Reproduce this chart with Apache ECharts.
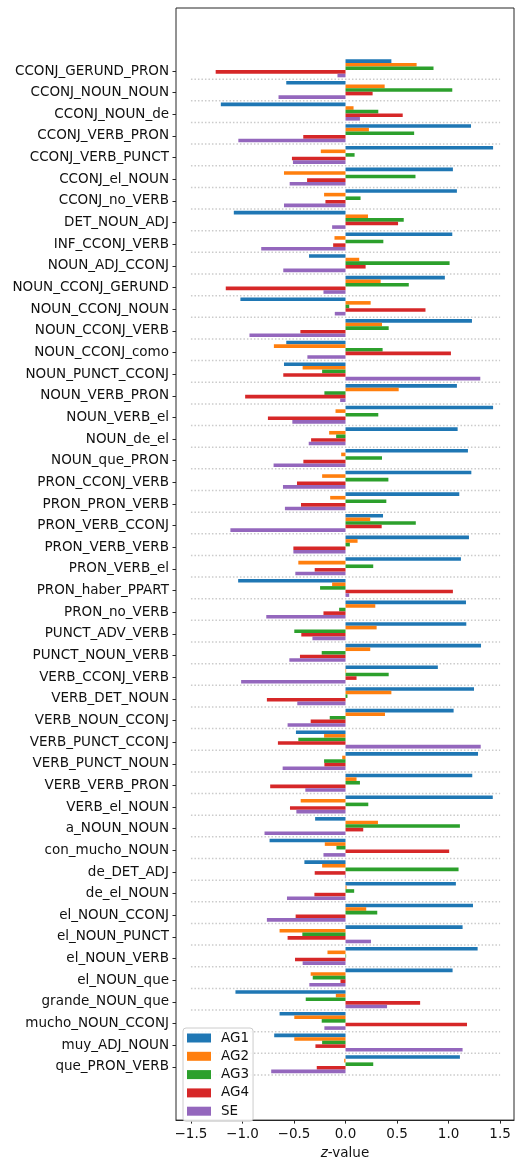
<!DOCTYPE html>
<html>
<head>
<meta charset="utf-8">
<script src="https://cdn.jsdelivr.net/npm/echarts@6/dist/echarts.min.js"></script>
<style>
  html, body { margin: 0; padding: 0; background: #fff; }
  #chart { width: 517px; height: 1165px; }
</style>
</head>
<body>
<div id="chart"></div>
<script>
// Trigram categories, top to bottom
const categories = [
  'CCONJ_GERUND_PRON', 'CCONJ_NOUN_NOUN', 'CCONJ_NOUN_de', 'CCONJ_VERB_PRON', 'CCONJ_VERB_PUNCT',
  'CCONJ_el_NOUN', 'CCONJ_no_VERB', 'DET_NOUN_ADJ', 'INF_CCONJ_VERB', 'NOUN_ADJ_CCONJ',
  'NOUN_CCONJ_GERUND', 'NOUN_CCONJ_NOUN', 'NOUN_CCONJ_VERB', 'NOUN_CCONJ_como', 'NOUN_PUNCT_CCONJ',
  'NOUN_VERB_PRON', 'NOUN_VERB_el', 'NOUN_de_el', 'NOUN_que_PRON', 'PRON_CCONJ_VERB',
  'PRON_PRON_VERB', 'PRON_VERB_CCONJ', 'PRON_VERB_VERB', 'PRON_VERB_el', 'PRON_haber_PPART',
  'PRON_no_VERB', 'PUNCT_ADV_VERB', 'PUNCT_NOUN_VERB', 'VERB_CCONJ_VERB', 'VERB_DET_NOUN',
  'VERB_NOUN_CCONJ', 'VERB_PUNCT_CCONJ', 'VERB_PUNCT_NOUN', 'VERB_VERB_PRON', 'VERB_el_NOUN',
  'a_NOUN_NOUN', 'con_mucho_NOUN', 'de_DET_ADJ', 'de_el_NOUN', 'el_NOUN_CCONJ',
  'el_NOUN_PUNCT', 'el_NOUN_VERB', 'el_NOUN_que', 'grande_NOUN_que', 'mucho_NOUN_CCONJ',
  'muy_ADJ_NOUN', 'que_PRON_VERB'
];

// z-values per group
const AG1 = [0.445, -0.575, -1.21, 1.218, 1.432, 1.042, 1.081, -1.084, 1.036, -0.354,
  0.964, -1.02, 1.227, -0.575, -0.597, 1.081, 1.432, 1.088, 1.188, 1.221,
  1.104, 0.364, 1.198, 1.12, -1.042, 1.169, 1.172, 1.315, 0.896, 1.247,
  1.049, -0.481, 1.286, 1.23, 1.429, -0.295, -0.737, -0.399, 1.071, 1.237,
  1.136, 1.282, 1.039, -1.068, -0.64, -0.692, 1.11];
const AG2 = [0.69, 0.38, 0.078, 0.227, -0.24, -0.597, -0.208, 0.218, -0.107, 0.133,
  0.341, 0.244, 0.354, -0.695, -0.416, 0.516, -0.097, -0.159, -0.042, -0.227,
  -0.149, 0.24, 0.117, -0.458, -0.13, 0.289, 0.302, 0.24, 0.006, 0.445,
  0.383, -0.208, -0.032, 0.107, -0.435, 0.315, -0.201, -0.227, 0.01, 0.201,
  -0.64, -0.175, -0.338, -0.094, -0.497, -0.497, -0.013];
const AG3 = [0.854, 1.036, 0.318, 0.666, 0.088, 0.679, 0.146, 0.565, 0.367, 1.01,
  0.614, 0.036, 0.419, 0.36, -0.227, -0.205, 0.318, -0.091, 0.354, 0.416,
  0.396, 0.682, 0.042, 0.269, -0.247, -0.062, -0.497, -0.231, 0.419, 0.019,
  -0.153, -0.458, -0.208, 0.14, 0.221, 1.11, -0.088, 1.097, 0.084, 0.308,
  -0.419, 0.006, -0.318, -0.386, -0.231, -0.227, 0.269];
const AG4 = [-1.26, 0.263, 0.555, -0.41, -0.52, -0.373, -0.195, 0.51, -0.12, 0.195,
  -1.162, 0.776, -0.438, 1.023, -0.604, -0.974, -0.753, -0.334, -0.409, -0.471,
  -0.432, 0.351, -0.506, -0.299, 1.042, -0.214, -0.429, -0.442, 0.107, -0.763,
  -0.338, -0.656, -0.205, -0.731, -0.539, 0.172, 1.006, -0.299, -0.302, -0.484,
  -0.562, -0.49, -0.049, 0.724, 1.179, -0.292, -0.279];
const SE = [-0.078, -0.65, 0.14, -1.04, -0.51, -0.542, -0.597, -0.13, -0.818, -0.604,
  -0.214, -0.104, -0.932, -0.37, 1.308, -0.052, -0.516, -0.357, -0.698, -0.607,
  -0.588, -1.117, -0.506, -0.487, 0.036, -0.769, -0.321, -0.545, -1.013, -0.468,
  -0.562, 1.312, -0.61, -0.39, -0.477, -0.786, -0.214, -0.006, -0.568, -0.763,
  0.247, -0.416, -0.351, 0.403, -0.205, 1.136, -0.721];

const seriesNames = ['AG1', 'AG2', 'AG3', 'AG4', 'SE'];
const seriesValues = [AG1, AG2, AG3, AG4, SE];
const colors = ['#1f77b4', '#ff7f0e', '#2ca02c', '#d62728', '#9467bd'];

// x-axis ticks and labels
const xTickValues = [-1.5, -1.0, -0.5, 0.0, 0.5, 1.0, 1.5];
const xTickLabels = ['\u22121.5', '\u22121.0', '\u22120.5', '0.0', '0.5', '1.0', '1.5'];
const sepFrom = -1.5, sepTo = 1.5;

const FONT = 'DejaVu Sans';
const X_MIN = -1.645, X_MAX = 1.635;

const chart = echarts.init(document.getElementById('chart'), null, { renderer: 'canvas' });

const barSeries = seriesNames.map((name, k) => ({
  name: name,
  type: 'bar',
  xAxisIndex: 0,
  yAxisIndex: 0,
  data: seriesValues[k],
  barWidth: 3.6,
  barGap: '0%',
  itemStyle: { color: colors[k] },
  silent: true,
  z: 3
}));

// dotted separators under each group
const separators = {
  type: 'custom',
  xAxisIndex: 0,
  yAxisIndex: 0,
  silent: true,
  z: 1,
  data: categories.map(c => [0, c]),
  encode: { x: 0, y: 1 },
  renderItem: function (params, api) {
    const band = api.size([0, 1])[1];
    const p0 = api.coord([sepFrom, api.value(1)]);
    const p1 = api.coord([sepTo, api.value(1)]);
    const y = p0[1] + band / 2;
    return {
      type: 'line',
      shape: { x1: p0[0], y1: y, x2: p1[0], y2: y },
      style: { stroke: '#cbcbcb', lineWidth: 1.5, lineDash: [1.5, 2] }
    };
  }
};

const option = {
  animation: false,
  backgroundColor: '#fff',
  textStyle: { fontFamily: FONT },
  color: colors,
  grid: [
    // bars
    { left: 176, right: 3, top: 57.5, bottom: 90 },
    // category labels and ticks
    { left: 176, right: 3, top: 60.2, bottom: 87.3 },
    // frame and x axis
    { left: 176, right: 3, top: 8, bottom: 38, show: true, borderColor: '#262626', borderWidth: 1, backgroundColor: 'transparent' }
  ],
  xAxis: [
    { gridIndex: 0, type: 'value', min: X_MIN, max: X_MAX, show: false, axisLine: { onZero: false } },
    { gridIndex: 1, type: 'value', min: X_MIN, max: X_MAX, show: false, axisLine: { onZero: false } },
    {
      gridIndex: 2, type: 'value', min: X_MIN, max: X_MAX,
      axisLine: { show: true, onZero: false, lineStyle: { color: '#262626', width: 1 } },
      axisTick: { show: true, length: 3.5, customValues: xTickValues, lineStyle: { color: '#262626', width: 1 } },
      axisLabel: {
        show: true, customValues: xTickValues, margin: 7,
        fontSize: 13.5, color: '#111', fontFamily: FONT,
        formatter: function (v) {
          const i = xTickValues.findIndex(t => Math.abs(t - v) < 1e-9);
          return i >= 0 ? xTickLabels[i] : '';
        }
      },
      splitLine: { show: false },
      name: '{i|z}-value',
      nameLocation: 'middle',
      nameGap: 24,
      nameTextStyle: {
        fontSize: 13.5, color: '#111', fontFamily: FONT, verticalAlign: 'top',
        rich: { i: { fontStyle: 'italic', fontSize: 13.5, color: '#111', fontFamily: FONT } }
      }
    }
  ],
  yAxis: [
    {
      gridIndex: 0, type: 'category', data: categories, inverse: true,
      axisLine: { show: false, onZero: false }, axisTick: { show: false }, axisLabel: { show: false }, splitLine: { show: false }
    },
    {
      gridIndex: 1, type: 'category', data: categories, inverse: true,
      axisLine: { show: false, onZero: false },
      axisTick: { show: true, alignWithLabel: true, length: 3.5, lineStyle: { color: '#262626', width: 1 } },
      axisLabel: { show: true, margin: 7, fontSize: 13.5, color: '#111', fontFamily: FONT, interval: 0 },
      splitLine: { show: false }
    },
    { gridIndex: 2, type: 'value', min: 0, max: 1, show: false, axisLine: { onZero: false } }
  ],
  legend: {
    data: seriesNames,
    orient: 'vertical',
    left: 183,
    top: 1028,
    padding: [3, 4, 3, 4],
    itemWidth: 24,
    itemHeight: 9,
    itemGap: 4.3,
    icon: 'rect',
    backgroundColor: 'rgba(255,255,255,0.85)',
    borderColor: '#cccccc',
    borderWidth: 1,
    borderRadius: 3,
    textStyle: { fontSize: 13.5, color: '#111', fontFamily: FONT, lineHeight: 14, padding: [0, 0, 0, 5] },
    selectedMode: false,
    z: 10
  },
  series: barSeries.concat([separators])
};

chart.setOption(option);
</script>
</body>
</html>
